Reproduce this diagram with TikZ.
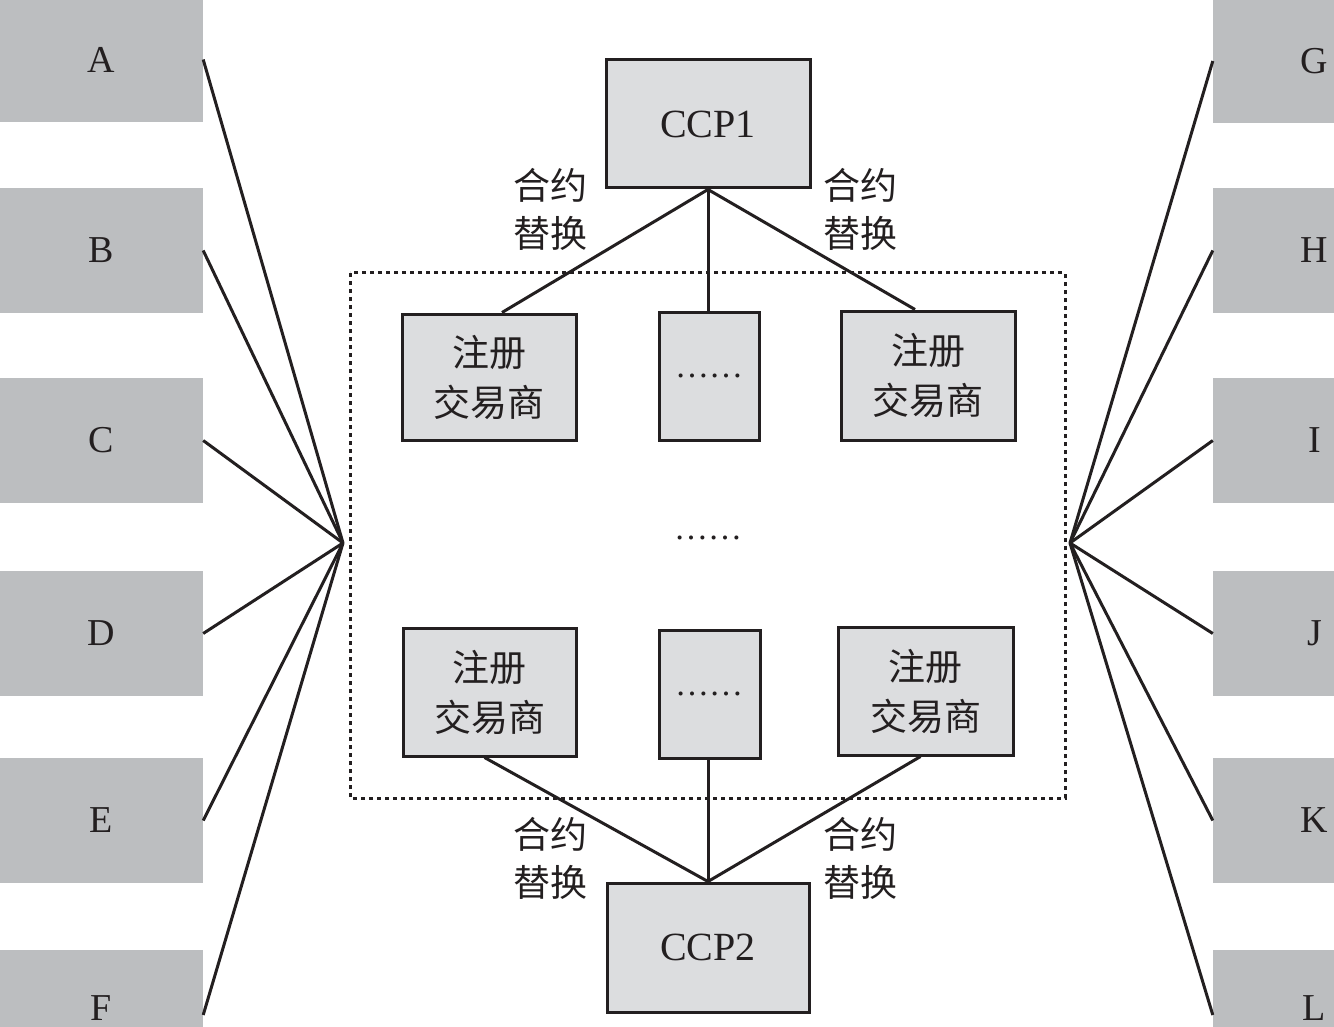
\documentclass[tikz,border=0pt]{standalone}
\usepackage{fontspec}
\setmainfont{Liberation Serif}
\newfontfamily\cjk{Noto Sans CJK SC}
\definecolor{sidegray}{HTML}{BCBEC0}
\definecolor{boxgray}{HTML}{DCDDDF}
\definecolor{ink}{HTML}{231F20}
\begin{document}
\begin{tikzpicture}[x=1pt,y=-1pt,
  sidebox/.style={fill=sidegray,draw=none,minimum width=203pt,minimum height=125pt,inner sep=0pt,text=ink,font=\fontsize{38}{44}\selectfont},
  ccpbox/.style={fill=boxgray,draw=ink,line width=3pt,inner sep=0pt,text=ink,font=\fontsize{40}{48}\selectfont},
  regbox/.style={fill=boxgray,draw=ink,line width=3pt,inner sep=0pt,text=ink,align=center,font=\cjk\fontsize{37}{50}\selectfont},
  lbl/.style={text=ink,align=center,inner sep=0pt,font=\cjk\fontsize{37}{48}\selectfont},
  conn/.style={draw=ink,line width=3pt},
  dots/.style={text=ink,inner sep=0pt,font=\fontsize{34}{40}\selectfont}]
\useasboundingbox (0,0) rectangle (1334,1027);
\fill[white] (0,0) rectangle (1334,1027);
\begin{scope}
\clip (0,0) rectangle (1334,1027);
% side boxes
\node[sidebox] (A) at (101.5,59.5) {A};
\node[sidebox] (B) at (101.5,250.5) {B};
\node[sidebox] (C) at (101.5,440.5) {C};
\node[sidebox] (D) at (101.5,633.5) {D};
\node[sidebox] (E) at (101.5,820.5) {E};
\node[sidebox,minimum height=116pt] (F) at (101.5,1008) {F};
\node[sidebox] (G) at (1314.5,61) {G};
\node[sidebox] (H) at (1314.5,250.5) {H};
\node[sidebox] (I) at (1314.5,440.5) {I};
\node[sidebox] (J) at (1314.5,633.5) {J};
\node[sidebox] (K) at (1314.5,820.5) {K};
\node[sidebox,minimum height=116pt] (L) at (1314.5,1008) {L};
\end{scope}
% hubs
\coordinate (hubL) at (343,543);
\coordinate (hubR) at (1070,543);
\foreach \n in {A,B,C,D,E} \draw[conn] (\n.east) -- (hubL);
\draw[conn] ([yshift=-7pt]F.east) -- (hubL);
\foreach \n in {G,H,I,J,K} \draw[conn] (\n.west) -- (hubR);
\draw[conn] ([yshift=-7pt]L.west) -- (hubR);
% dotted frame
\draw[ink,line width=3pt,dash pattern=on 4pt off 4pt] (350,273) rectangle (1065,798);
% CCP boxes
\node[ccpbox,minimum width=204pt,minimum height=128pt] (CCP1) at (708,124) {CCP1};
\node[ccpbox,minimum width=202pt,minimum height=129pt] (CCP2) at (708,947.5) {CCP2};
% registered dealers
\node[regbox,minimum width=174pt,minimum height=126pt] (R1) at (489,377) {注册\\交易商};
\node[regbox,minimum width=100pt,minimum height=128pt] (M1) at (709,376) {};
\node[regbox,minimum width=174pt,minimum height=129pt] (R2) at (928,375.5) {注册\\交易商};
\node[regbox,minimum width=173pt,minimum height=128pt] (R3) at (489.5,692) {注册\\交易商};
\node[regbox,minimum width=101pt,minimum height=128pt] (M2) at (709.5,694) {};
\node[regbox,minimum width=175pt,minimum height=128pt] (R4) at (925.5,691) {注册\\交易商};
\node[dots] (d1) at (709,376) {……};
\node[dots] (d2) at (709,694) {……};
\node[dots] (d3) at (708,538) {……};
% connectors
\draw[conn] (CCP1.south) -- ([xshift=13pt]R1.north);
\draw[conn] (CCP1.south) -- (CCP1.south |- M1.north);
\draw[conn] (CCP1.south) -- ([xshift=-13pt]R2.north);
\draw[conn] ([xshift=-5pt]R3.south) -- (CCP2.north);
\draw[conn] (CCP2.north |- M2.south) -- (CCP2.north);
\draw[conn] ([xshift=-5pt]R4.south) -- (CCP2.north);
% labels
\node[lbl] (t1) at (550,209) {合约\\替换};
\node[lbl] (t2) at (860,209) {合约\\替换};
\node[lbl] (t3) at (550,858) {合约\\替换};
\node[lbl] (t4) at (860,858) {合约\\替换};
\end{tikzpicture}
\end{document}
